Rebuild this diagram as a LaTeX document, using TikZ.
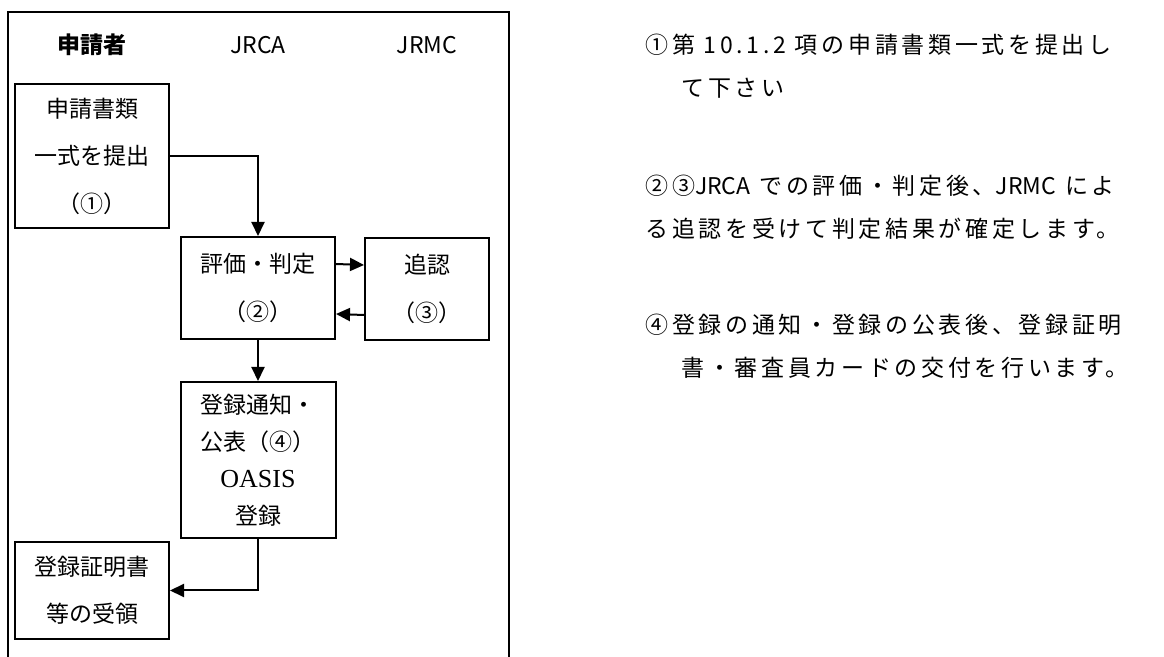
\documentclass[tikz,border=0pt]{standalone}
\usepackage{fontspec}
\setmainfont{Liberation Serif}
\newfontfamily\jpfont{Noto Sans CJK JP}
\newfontfamily\jpnote[LetterSpace=16]{Noto Sans CJK JP}
\usetikzlibrary{arrows.meta}
\tikzset{
	flowbox/.style={shape=rectangle,draw=black,line width=1pt,
					inner sep=0pt,align=center,
					font=\jpfont\fontsize{11.5}{23.75}\selectfont},
	flowarrow/.style={-{Triangle[length=7pt,width=6.5pt]},line width=1pt},
	lanehead/.style={inner sep=0pt,font=\jpfont\fontsize{11.5}{14}\selectfont},
	notetext/.style={inner sep=0pt,anchor=west,align=left,
					 font=\jpnote\fontsize{11.5}{21.5}\selectfont}
}

\begin{document}
\begin{tikzpicture}[x=0.5pt,y=-0.5pt]
		\useasboundingbox (0,0) rectangle (1164,657);
		% frame of the three lanes
		\draw[line width=1.2pt] (8,657) -- (8,12) -- (509,12) -- (509,657);
		\draw node(applicant)[lanehead,at={(92,45)}]{\bfseries 申請者};
		\draw node(jrca)[lanehead,at={(258,45)}]{JRCA};
		\draw node(jrmc)[lanehead,at={(427,45)}]{JRMC};
		% steps
		\draw node(apply)[flowbox,
						  minimum width=77pt,minimum height=72pt,
						  at={(92,156)}]
			{申請書類\\一式を提出\\（①）};
		\draw node(judge)[flowbox,
						  minimum width=77pt,minimum height=51pt,
						  at={(258,288)}]
			{評価・判定\\（②）};
		\draw node(confirm)[flowbox,
							minimum width=62pt,minimum height=51pt,
							at={(427,289)}]
			{追認\\（③）};
		\draw node(register)[flowbox,
							 minimum width=77.5pt,minimum height=78pt,
							 font=\jpfont\fontsize{11.5}{18.5}\selectfont,
							 at={(258,460)}]
			{登録通知・\\公表（④）\\{\rmfamily\fontsize{13}{18.5}\selectfont OASIS}\\登録};
		\draw node(receive)[flowbox,
							minimum width=77pt,minimum height=48.5pt,
							at={(92,590.5)}]
			{登録証明書\\等の受領};
		% arrows
		\draw[flowarrow] (apply) -| (judge);
		\draw[flowarrow] ([yshift=12pt]judge.east) -- ([yshift=12pt]confirm.west);
		\draw[flowarrow] ([yshift=-13pt]confirm.west) -- ([yshift=-13pt]judge.east);
		\draw[flowarrow] (judge) -- (register);
		\draw[flowarrow] (register) |- (receive);
		% notes
		\draw node(note1)[notetext,at={(645,66.5)}]
			{①第 10.1.2 項の申請書類一式を提出し\\\hspace*{18pt}て下さい};
		\draw node(note2)[notetext,at={(645,207.5)}]
			{②③{\jpfont JRCA} での評価・判定後、{\jpfont JRMC} によ\\る追認を受けて判定結果が確定します。};
		\draw node(note3)[notetext,at={(645,346)}]
			{④登録の通知・登録の公表後、登録証明\\\hspace*{18pt}書・審査員カードの交付を行います。};
\end{tikzpicture}
\end{document}
